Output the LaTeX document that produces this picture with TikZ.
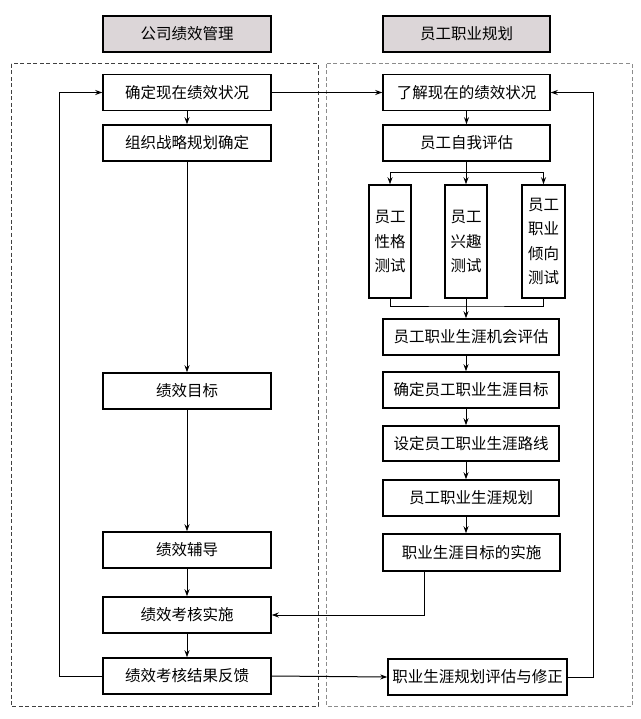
\documentclass[tikz,border=0pt]{standalone}
\usepackage{fontspec}
\setmainfont{Noto Sans CJK SC}
\usetikzlibrary{arrows.meta}
\definecolor{titlefill}{HTML}{DCD6D8}
\begin{document}
\begin{tikzpicture}[x=1pt,y=-1pt,
  box/.style={draw, line width=1.5pt, inner sep=0pt, minimum height=36pt,
    font=\fontsize{15.5}{18}\selectfont},
  tallbox/.style={draw, line width=1.5pt, inner sep=0pt, minimum width=42pt,
    minimum height=113pt, align=center, font=\fontsize{15.5}{24.5}\selectfont},
  titlebox/.style={box, fill=titlefill},
  conn/.style={line width=1pt},
  arr/.style={conn, -{Stealth[length=7pt,width=5pt]}},
  frame/.style={dashed, line width=1pt, dash pattern=on 4pt off 2.5pt}]
\useasboundingbox (0,0) rectangle (640,719);
\fill[white] (0,0) rectangle (640,719);

% containers
\draw[frame, black!75] (11,64) rectangle (318,706);
\draw[frame, black!45] (326,64) rectangle (632,706);

% titles
\node[titlebox, minimum width=168pt] (TL) at (187,34) {公司绩效管理};
\node[titlebox, minimum width=167pt] (TR) at (466.5,34) {员工职业规划};

% left column
\node[box, minimum width=168pt] (L1) at (187,92.5) {确定现在绩效状况};
\node[box, minimum width=168pt] (L2) at (187,143) {组织战略规划确定};
\node[box, minimum width=168pt] (L3) at (187,391) {绩效目标};
\node[box, minimum width=168pt] (L4) at (187,550) {绩效辅导};
\node[box, minimum width=168pt] (L5) at (187,615) {绩效考核实施};
\node[box, minimum width=168pt] (L6) at (187,676) {绩效考核结果反馈};

% right column
\node[box, minimum width=167pt] (R1) at (466.5,92.5) {了解现在的绩效状况};
\node[box, minimum width=167pt] (R2) at (466.5,143) {员工自我评估};
\node[tallbox] (T1) at (390,241.5) {员工\\性格\\测试};
\node[tallbox] (T2) at (466,241.5) {员工\\兴趣\\测试};
\node[tallbox, minimum width=43pt] (T3) at (543.5,241.5) {员工\\职业\\倾向\\测试};
\node[box, minimum width=176pt] (R3) at (471,337) {员工职业生涯机会评估};
\node[box, minimum width=176pt] (R4) at (471,390) {确定员工职业生涯目标};
\node[box, minimum width=176pt, minimum height=35pt] (R5) at (471,443.5) {设定员工职业生涯路线};
\node[box, minimum width=176pt] (R6) at (471,498) {员工职业生涯规划};
\node[box, minimum width=177pt, minimum height=37pt] (R7) at (471.5,552.5) {职业生涯目标的实施};
\node[box, minimum width=179pt] (R8) at (477.5,677) {职业生涯规划评估与修正};

% left arrows
\draw[arr] (L1) -- (L2);
\draw[arr] (L2) -- (L3);
\draw[arr] (L3) -- (L4);
\draw[arr] (L4) -- (L5);
\draw[arr] (L5) -- (L6);
\coordinate (lloop) at (59,676);
\draw[arr] (L6.west) -- (lloop) |- (L1.west);

% cross arrows
\draw[arr] (L1.east) -- (R1.west);
\draw[arr] (L6.east) -- (R8.west);

% right arrows
\coordinate (ax) at (466,0);
\draw[arr] (R1) -- (R2);
\coordinate (split) at (466,173);
\draw[conn] (R2.south -| ax) -- (split);
\draw[arr] (split) -| (T1.north);
\draw[arr] (split) -| (T3.north);
\draw[arr] (split) -- (T2.north);
\coordinate (merge) at (466,306);
\draw[conn] (T1.south) |- (merge) -| (T3.south);
\draw[conn] (T2.south) -- (merge);
\draw[arr] (merge) -- (R3.north -| ax);
\draw[arr] (R3.south -| ax) -- (R4.north -| ax);
\draw[arr] (R4.south -| ax) -- (R5.north -| ax);
\draw[arr] (R5.south -| ax) -- (R6.north -| ax);
\draw[arr] (R6.south -| ax) -- (R7.north -| ax);
\coordinate (r7out) at (424,615);
\draw[arr] (R7.south -| r7out) -- (r7out) -- (L5.east);
\coordinate (rloop) at (593,677);
\draw[arr] (R8.east) -- (rloop) |- (R1.east);
\end{tikzpicture}
\end{document}
